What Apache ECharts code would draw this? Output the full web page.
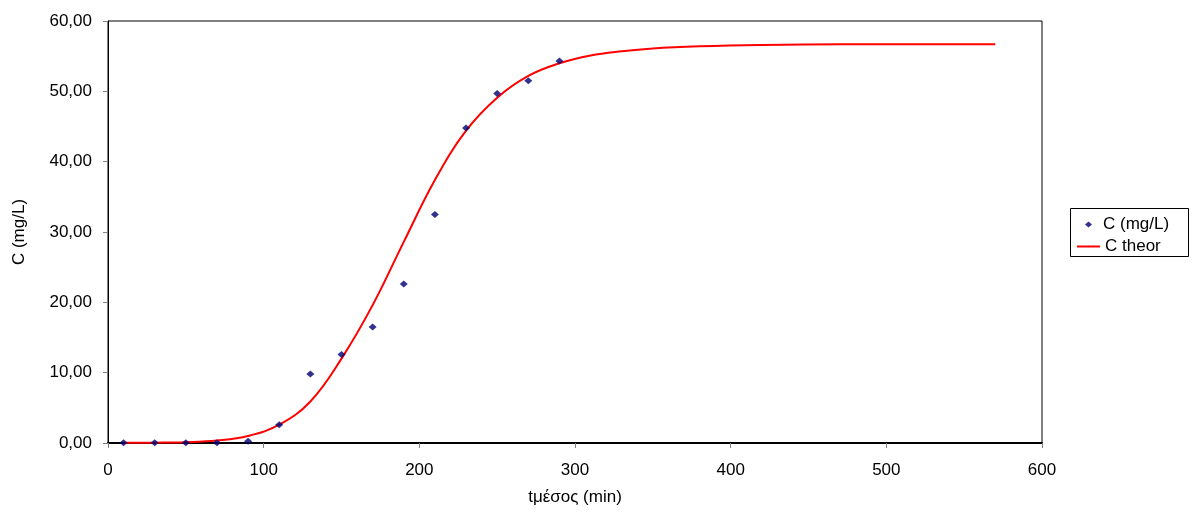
<!DOCTYPE html>
<html>
<head>
<meta charset="utf-8">
<script src="https://cdn.jsdelivr.net/npm/echarts@6/dist/echarts.min.js"></script>
<style>html,body{margin:0;padding:0;background:#fff}#c{width:1196px;height:514px}</style>
</head>
<body>
<div id="c"></div>
<script>
// measured points
var measTime = [10, 30, 50, 70, 90, 110, 130, 150, 170, 190, 210, 230, 250, 270, 290];
var measC = [0.05, 0.02, 0.05, 0.02, 0.25, 2.6, 9.8, 12.6, 16.5, 22.6, 32.5, 44.8, 49.7, 51.5, 54.3];
// theoretical curve
var theorTime = [10, 30, 50, 70, 90, 110, 130, 150, 170, 190, 210, 230, 250, 270, 290, 310, 330, 350, 380, 420, 470, 520, 570];
var theorC = [0.02, 0.05, 0.12, 0.35, 1.0, 2.6, 5.9, 12.0, 19.6, 28.6, 37.4, 44.4, 49.1, 52.2, 54.0, 55.1, 55.7, 56.1, 56.4, 56.6, 56.7, 56.7, 56.7];
var xTicks = {min: 0, max: 600, interval: 100};
var yTicks = {min: 0, max: 60, interval: 10};

var font = '"Liberation Sans", Arial, sans-serif';
var chart = echarts.init(document.getElementById('c'));
chart.setOption({
  animation: false,
  backgroundColor: '#fff',
  textStyle: {fontFamily: font},
  grid: {left: 108, right: 154, top: 21, bottom: 71, show: true, borderColor: '#000', borderWidth: 1, backgroundColor: 'transparent'},
  legend: [
    {data: ['C (mg/L)'], left: 1085, top: 216, icon: 'diamond', itemWidth: 7, itemHeight: 6, padding: 0,
     textStyle: {fontFamily: font, fontSize: 17, color: '#000', padding: [0, 0, 0, 6]}},
    {data: ['C theor'], left: 1076, top: 238, itemWidth: 23, itemHeight: 2, padding: 0,
     textStyle: {fontFamily: font, fontSize: 17, color: '#000'}}
  ],
  graphic: [{type: 'rect', shape: {x: 1070.5, y: 208.5, width: 118, height: 48}, style: {fill: 'none', stroke: '#000', lineWidth: 1}, z: 100}],
  xAxis: {
    type: 'value', min: xTicks.min, max: xTicks.max, interval: xTicks.interval,
    name: 'tμέσος (min)', nameLocation: 'middle', nameGap: 46,
    nameTextStyle: {fontFamily: font, fontSize: 17, color: '#000'},
    axisLine: {show: true, onZero: false, lineStyle: {color: '#000', width: 2}},
    axisTick: {show: true, length: 5, lineStyle: {color: '#808080'}},
    axisLabel: {fontFamily: font, fontSize: 17, color: '#000', margin: 19},
    splitLine: {show: false}
  },
  yAxis: {
    type: 'value', min: yTicks.min, max: yTicks.max, interval: yTicks.interval,
    name: 'C (mg/L)', nameLocation: 'middle', nameGap: 80, nameRotate: 90,
    nameTextStyle: {fontFamily: font, fontSize: 17, color: '#000'},
    axisLine: {show: true, lineStyle: {color: '#000', width: 1}},
    axisTick: {show: true, length: 5, lineStyle: {color: '#808080'}},
    axisLabel: {fontFamily: font, fontSize: 17, color: '#000', margin: 16,
      formatter: function (v) { return v.toFixed(2).replace('.', ','); }},
    splitLine: {show: false}
  },
  series: [
    {name: 'C (mg/L)', type: 'scatter', symbol: 'diamond', symbolSize: [8, 7],
     itemStyle: {color: '#000070'}, z: 3,
     data: measTime.map(function (t, i) { return [t, measC[i]]; })},
    {name: 'C theor', type: 'line', smooth: 0.4, symbol: 'none', showSymbol: false,
     lineStyle: {color: '#ff0000', width: 2}, itemStyle: {color: '#ff0000'}, z: 2,
     data: theorTime.map(function (t, i) { return [t, theorC[i]]; })}
  ]
});
</script>
</body>
</html>
